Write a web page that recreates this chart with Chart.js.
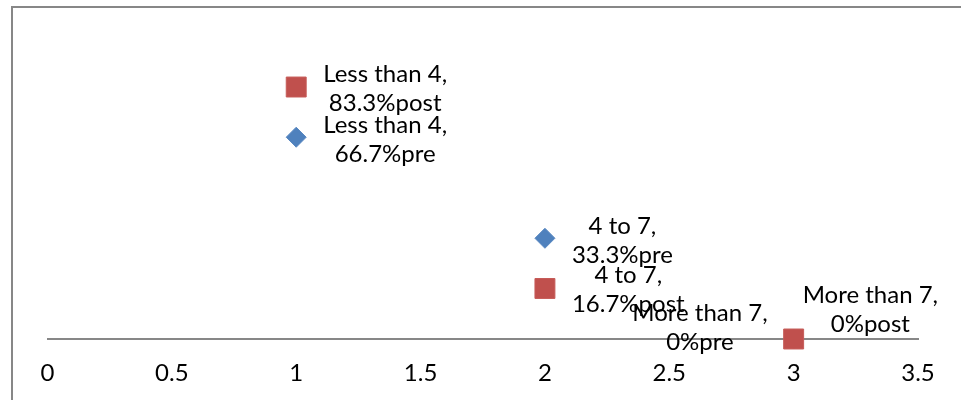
<!DOCTYPE html>
<html>
<head>
<meta charset="utf-8">
<script src="https://cdn.jsdelivr.net/npm/chart.js@4/dist/chart.umd.min.js"></script>
<style>
  html, body { margin: 0; padding: 0; background: #ffffff; }
  #wrap { width: 961px; height: 400px; }
</style>
</head>
<body>
<div id="wrap"><canvas id="chart" width="961" height="400"></canvas></div>
<script>
// Years-of-experience groups and their share before / after
const categories = ['Less than 4', '4 to 7', 'More than 7'];
const xPositions = [1, 2, 3];
const preValues = [66.7, 33.3, 0];
const postValues = [83.3, 16.7, 0];
const xTickValues = [0, 0.5, 1, 1.5, 2, 2.5, 3, 3.5];
const xTickLabels = ['0', '0.5', '1', '1.5', '2', '2.5', '3', '3.5'];

const FONT = 'Lato, "Liberation Sans", sans-serif';
const FONT_SIZE = 24;

function points(values) {
  return values.map((v, i) => ({ x: xPositions[i], y: v, cat: categories[i] }));
}

// Outer frame drawn around the chart
const framePlugin = {
  id: 'frame',
  beforeDraw(chart) {
    const ctx = chart.ctx;
    ctx.save();
    ctx.fillStyle = '#ffffff';
    ctx.fillRect(0, 0, chart.width, chart.height);
    ctx.strokeStyle = '#878787';
    ctx.lineWidth = 2;
    ctx.strokeRect(12, 7, chart.width + 40, chart.height + 40);
    ctx.restore();
  }
};

// Two-line point labels: "<category>," / "<value>%<series>"
const pointLabelPlugin = {
  id: 'pointLabels',
  afterDatasetsDraw(chart, args, opts) {
    const ctx = chart.ctx;
    ctx.save();
    ctx.font = `${FONT_SIZE}px ${FONT}`;
    ctx.fillStyle = '#000000';
    ctx.textAlign = 'center';
    ctx.textBaseline = 'middle';
    chart.data.datasets.forEach((ds, di) => {
      const meta = chart.getDatasetMeta(di);
      const place = opts.placement[ds.label];
      meta.data.forEach((el, i) => {
        const raw = ds.data[i];
        const lines = [raw.cat + ',', raw.y + '%' + ds.label];
        const w = Math.max(...lines.map(l => ctx.measureText(l).width));
        const p = place[i];
        const left = p.side === 'left' ? el.x + p.dx - w : el.x + p.dx;
        const cx = left + w / 2;
        const cy = el.y + p.dy;
        const lh = opts.lineHeight;
        ctx.fillText(lines[0], cx, cy - lh / 2);
        ctx.fillText(lines[1], cx, cy + lh / 2);
      });
    });
    ctx.restore();
  }
};

new Chart(document.getElementById('chart'), {
  type: 'scatter',
  data: {
    datasets: [
      {
        label: 'post',
        data: points(postValues),
        pointStyle: 'rect',
        pointRadius: 14.1,
        pointHoverRadius: 14.1,
        backgroundColor: '#C0504D',
        borderColor: '#C65B58',
        borderWidth: 1,
        clip: false
      },
      {
        label: 'pre',
        data: points(preValues),
        pointStyle: 'rectRot',
        pointRadius: 10,
        pointHoverRadius: 10,
        backgroundColor: '#4F81BD',
        borderColor: '#5A89C2',
        borderWidth: 1,
        clip: false
      }
    ]
  },
  options: {
    responsive: false,
    animation: false,
    events: [],
    layout: { padding: { left: 47.5, right: 43, top: 36.5, bottom: 0 } },
    plugins: {
      legend: { display: false },
      tooltip: { enabled: false },
      pointLabels: {
        lineHeight: 29,
        placement: {
          pre: [
            { side: 'right', dx: 27, dy: 3 },
            { side: 'right', dx: 27, dy: 2 },
            { side: 'left', dx: -26, dy: -11 }
          ],
          post: [
            { side: 'right', dx: 27, dy: 2 },
            { side: 'right', dx: 27, dy: 1 },
            { side: 'right', dx: 9, dy: -29 }
          ]
        }
      }
    },
    scales: {
      x: {
        type: 'linear',
        min: 0,
        max: 3.5,
        afterBuildTicks(scale) {
          scale.ticks = xTickValues.map(v => ({ value: v }));
        },
        afterFit(scale) { scale.height = 61; },
        grid: { display: false, drawTicks: false },
        border: { display: true, color: '#878787', width: 2 },
        ticks: {
          padding: 20,
          color: '#000000',
          font: { family: FONT, size: FONT_SIZE },
          maxRotation: 0,
          autoSkip: false,
          callback: (value, index) => xTickLabels[index]
        }
      },
      y: {
        display: false,
        min: 0,
        max: 100
      }
    }
  },
  plugins: [framePlugin, pointLabelPlugin]
});
</script>
</body>
</html>
